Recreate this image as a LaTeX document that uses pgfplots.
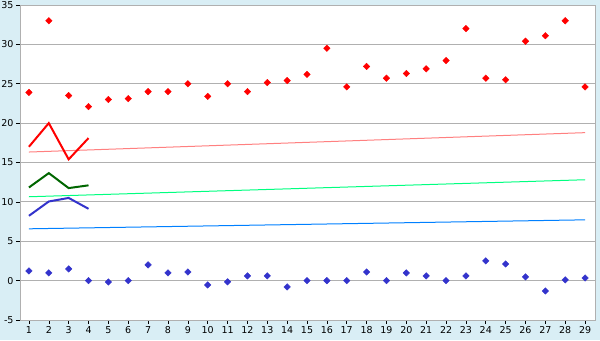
\documentclass[border=0pt]{standalone}
\usepackage{pgfplots}
\pgfplotsset{compat=1.18}
\usepackage{fontspec}
\setmainfont{DejaVu Sans}
\definecolor{bgblue}{HTML}{D9EEF5}
\definecolor{gridgray}{HTML}{B0B0B0}
\definecolor{ptblue}{HTML}{3333CC}
\definecolor{dkgreen}{HTML}{006600}
\definecolor{trendred}{HTML}{FF8080}
\definecolor{trendgreen}{HTML}{00FF80}
\definecolor{trendblue}{HTML}{0080FF}
\begin{document}
\begin{tikzpicture}[x=1bp,y=1bp]
\fill[bgblue] (0,0) rectangle (600,340);
\useasboundingbox (0,0) rectangle (600,340);
\begin{axis}[
  at={(20bp,20bp)}, anchor=south west,
  scale only axis, width=575bp, height=315bp,
  xmin=0.55, xmax=29.5, ymin=-5, ymax=35,
  xtick={1,...,29}, ytick={-5,0,...,35},
  ymajorgrids, grid style={gridgray, line width=0.9bp},
  axis line style={gridgray, line width=0.9bp},
  axis background/.style={fill=white},
  tick style={black, line width=0.6bp},
  tick align=outside, major tick length=4bp,
  xtick pos=bottom, ytick pos=left,
  tick label style={font=\fontsize{9.5bp}{11bp}\selectfont},
  /pgf/number format/assume math mode=true,
  xticklabel style={yshift=1bp},
  yticklabel style={xshift=1bp},
  clip=false,
]
% trend lines
\addplot[trendred, line width=1bp] coordinates {(1,16.33) (29,18.79)};
\addplot[trendgreen, line width=1bp] coordinates {(1,10.65) (29,12.81)};
\addplot[trendblue, line width=1bp] coordinates {(1,6.58) (29,7.72)};
% short lines
\addplot[red, line width=2bp] coordinates {(1,17.0) (2,20.0) (3,15.4) (4,18.1)};
\addplot[dkgreen, line width=2bp] coordinates {(1,11.83) (2,13.65) (3,11.75) (4,12.1)};
\addplot[ptblue, line width=2bp] coordinates {(1,8.23) (2,10.05) (3,10.5) (4,9.12)};
% red points
\addplot[only marks, mark=square*, mark size=2.3bp, red, mark options={fill=red, rotate=45}] coordinates {
(1,23.9) (2,33.0) (3,23.5) (4,22.1) (5,23.0) (6,23.1) (7,24.0) (8,24.0) (9,25.0)
(10,23.4) (11,25.0) (12,24.0) (13,25.15) (14,25.4) (15,26.2) (16,29.5) (17,24.6)
(18,27.2) (19,25.7) (20,26.3) (21,26.9) (22,27.95) (23,32.0) (24,25.7) (25,25.5)
(26,30.4) (27,31.1) (28,33.0) (29,24.6)};
% blue points
\addplot[only marks, mark=square*, mark size=2.3bp, ptblue, mark options={fill=ptblue, rotate=45}] coordinates {
(1,1.23) (2,0.98) (3,1.49) (4,0) (5,-0.17) (6,0) (7,2.0) (8,0.98) (9,1.1)
(10,-0.55) (11,-0.15) (12,0.6) (13,0.6) (14,-0.8) (15,0) (16,0) (17,0)
(18,1.1) (19,0) (20,0.98) (21,0.6) (22,0) (23,0.6) (24,2.5) (25,2.12)
(26,0.47) (27,-1.31) (28,0.09) (29,0.34)};
\end{axis}
\end{tikzpicture}
\end{document}
